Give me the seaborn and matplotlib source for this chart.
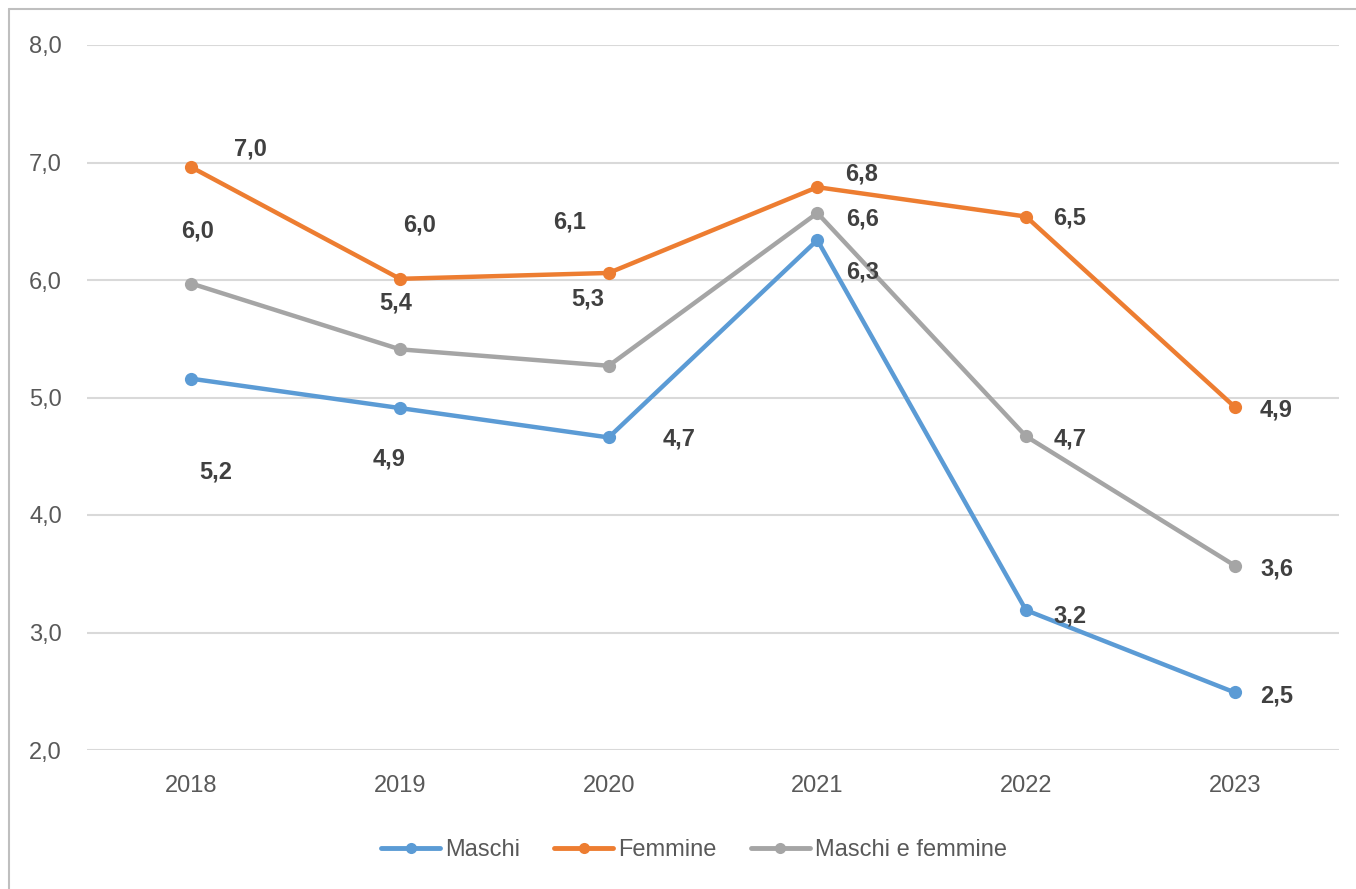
import matplotlib
matplotlib.use("Agg")
import matplotlib.pyplot as plt
from matplotlib.lines import Line2D
import seaborn as sns
import pandas as pd

years = [2018, 2019, 2020, 2021, 2022, 2023]
maschi = [5.16, 4.91, 4.66, 6.34, 3.19, 2.49]
femmine = [6.96, 6.01, 6.06, 6.79, 6.54, 4.92]
maschi_femmine = [5.97, 5.41, 5.27, 6.57, 4.67, 3.57]
series_names = ["Maschi", "Femmine", "Maschi e femmine"]
y_ticks = [2.0, 3.0, 4.0, 5.0, 6.0, 7.0, 8.0]

colors = {"Maschi": "#5B9BD5", "Femmine": "#ED7D31", "Maschi e femmine": "#A5A5A5"}

# label offsets in pixels (dx, dy up) relative to each point (Excel-like placement)
offsets = {
    "Maschi": [(24, -93), (-11, -51), (70, -2), (45, -32), (44, -6), (42, -4)],
    "Femmine": [(59, 18), (20, 54), (-39, 51), (44, 13), (44, -1), (41, -3)],
    "Maschi e femmine": [(6, 53), (-4, 46), (-21, 67), (45, -6), (44, -3), (42, -3)],
}

df = pd.DataFrame({
    "year": years * 3,
    "value": maschi + femmine + maschi_femmine,
    "serie": [series_names[0]] * 6 + [series_names[1]] * 6 + [series_names[2]] * 6,
})

sns.set_theme(style="white")
plt.rcParams["font.family"] = ["Liberation Sans", "DejaVu Sans"]

fig = plt.figure(figsize=(13.56, 8.89), dpi=100)
ax = fig.add_axes([87 / 1356, 1 - 750 / 889, (1339 - 87) / 1356, (750 - 45) / 889])

sns.lineplot(data=df, x="year", y="value", hue="serie", hue_order=series_names,
             palette=colors, marker="o", markersize=9.5, markeredgewidth=0,
             linewidth=3.2, sort=False, ax=ax, legend=False, zorder=3)

for name, vals in zip(series_names, [maschi, femmine, maschi_femmine]):
    for x, v, (dx, dy) in zip(years, vals, offsets[name]):
        ax.annotate(f"{v:.1f}".replace(".", ","), (x, v), xytext=(dx, dy),
                    textcoords="offset pixels", ha="center", va="center",
                    fontsize=17, fontweight="bold", color="#404040", zorder=5)

ax.set_xlim(2017.5, 2023.5)
ax.set_ylim(2.0, 8.0)
ax.set_xticks(years)
ax.set_xticklabels([str(y) for y in years])
ax.set_yticks(y_ticks)
ax.set_yticklabels([f"{t:.1f}".replace(".", ",") for t in y_ticks])
ax.tick_params(axis="both", length=0, labelsize=17, labelcolor="#595959")
ax.tick_params(axis="x", pad=18)
ax.tick_params(axis="y", pad=18)
ax.grid(axis="y", color="#D9D9D9", linewidth=1.5, zorder=0)
ax.set_xlabel("")
ax.set_ylabel("")
for s in ax.spines.values():
    s.set_visible(False)

handles = [Line2D([0], [0], color=colors[n], linewidth=3.5, marker="o",
                  markersize=8, markeredgewidth=0) for n in series_names]
fig.legend(handles, series_names, loc="center", bbox_to_anchor=(694 / 1356, 1 - 850 / 889),
           ncol=3, frameon=False, fontsize=17, handlelength=2.5, columnspacing=1.45,
           handletextpad=0.2, labelcolor="#595959")

# outer border (top and left)
fig.add_artist(Line2D([9 / 1356, 1.0], [1 - 9 / 889, 1 - 9 / 889], color="#BFBFBF", linewidth=1.5))
fig.add_artist(Line2D([9 / 1356, 9 / 1356], [0.0, 1 - 9 / 889], color="#BFBFBF", linewidth=1.5))

fig.savefig("out.png", dpi=100)
